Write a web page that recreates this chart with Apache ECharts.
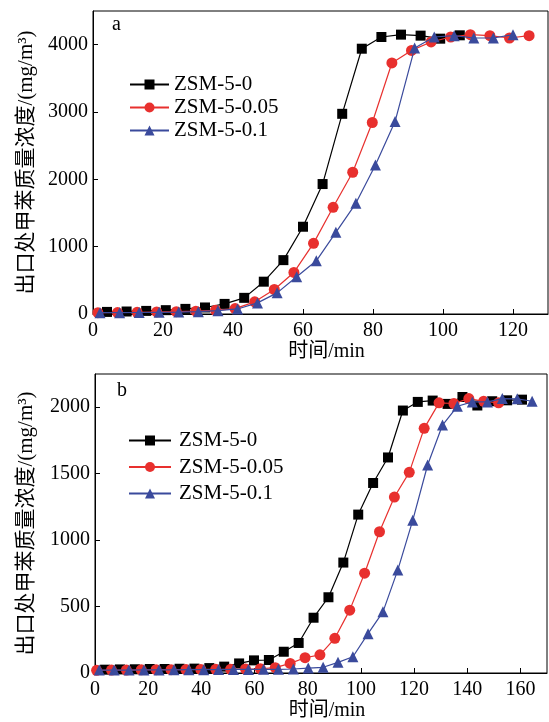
<!DOCTYPE html>
<html>
<head>
<meta charset="utf-8">
<script src="https://cdn.jsdelivr.net/npm/echarts@6/dist/echarts.min.js"></script>
<style>html,body{margin:0;padding:0;background:#fff;}#c{width:549px;height:722px;}</style>
</head>
<body>
<div id="c"></div>
<script>
// ---- Data ----
var seriesNames = ['ZSM-5-0', 'ZSM-5-0.05', 'ZSM-5-0.1'];

// Panel a
var aX0 = [4.0, 9.6, 15.2, 20.8, 26.4, 32.0, 37.6, 43.2, 48.8, 54.4, 60.0, 65.6, 71.2, 76.8, 82.4, 88.0, 93.6, 99.2, 104.8];
var aY0 = [31, 37, 46, 57, 76, 97, 150, 240, 480, 800, 1296, 1930, 2973, 3940, 4114, 4149, 4134, 4089, 4139];
var aX1 = [1.4, 7.0, 12.6, 18.2, 23.8, 29.4, 35.0, 40.6, 46.2, 51.8, 57.4, 63.0, 68.6, 74.2, 79.8, 85.4, 91.0, 96.6, 102.2, 107.8, 113.4, 119.0, 124.6];
var aY1 = [20, 22, 25, 30, 35, 42, 55, 80, 181, 364, 617, 1049, 1585, 2105, 2844, 3728, 3915, 4040, 4114, 4149, 4134, 4099, 4134];
var aX2 = [2.0, 7.6, 13.2, 18.9, 24.5, 30.1, 35.7, 41.3, 47.0, 52.6, 58.2, 63.8, 69.4, 75.1, 80.7, 86.3, 91.9, 97.5, 103.2, 108.8, 114.4, 120.0];
var aY2 = [20, 20, 22, 25, 28, 35, 50, 75, 165, 314, 552, 790, 1213, 1644, 2214, 2858, 3950, 4114, 4134, 4099, 4099, 4149];

// Panel b
var bX0 = [3.8, 9.4, 15.0, 20.6, 26.2, 31.8, 37.4, 43.0, 48.6, 54.2, 59.8, 65.4, 71.0, 76.6, 82.2, 87.8, 93.4, 99.0, 104.6, 110.2, 115.8, 121.4, 127.0, 132.6, 138.2, 143.8, 149.4, 155.0, 160.6];
var bY0 = [25, 27, 28, 30, 30, 32, 33, 37, 48, 72, 95, 98, 160, 226, 416, 570, 831, 1192, 1430, 1622, 1975, 2040, 2050, 2025, 2077, 2013, 2045, 2052, 2057];
var bX1 = [0.6, 6.2, 11.8, 17.4, 23.0, 28.6, 34.2, 39.8, 45.4, 51.0, 56.6, 62.2, 67.8, 73.4, 79.0, 84.6, 90.2, 95.8, 101.4, 107.0, 112.6, 118.2, 123.8, 129.4, 135.0, 140.6, 146.2, 151.8];
var bY1 = [20, 22, 22, 24, 25, 25, 26, 27, 28, 28, 30, 32, 40, 72, 115, 137, 261, 473, 751, 1063, 1324, 1510, 1841, 2033, 2028, 2065, 2045, 2033];
var bX2 = [1.6, 7.2, 12.8, 18.4, 24.1, 29.7, 35.3, 40.9, 46.5, 52.1, 57.7, 63.4, 69.0, 74.6, 80.2, 85.8, 91.4, 97.0, 102.7, 108.3, 113.9, 119.5, 125.1, 130.7, 136.3, 141.9, 147.6, 153.2, 158.8, 164.4];
var bY2 = [22, 22, 22, 23, 23, 24, 25, 25, 26, 27, 27, 28, 28, 30, 37, 43, 80, 122, 296, 460, 776, 1149, 1565, 1866, 2007, 2040, 2040, 2065, 2063, 2045];

var xTitle = '时间/min';
var yTitle = '出口处甲苯质量浓度/(mg/m³)';
var panelLabels = ['a', 'b'];

// ---- Styling ----
var FONT = '"Liberation Serif", "Noto Sans CJK SC", serif';
var colors = ['#000000', '#e8302e', '#3a4a9c'];
var symbols = ['rect', 'circle', 'triangle'];
var symSizes = [10, 11, 11];

function pairs(xs, ys) { return xs.map(function (x, i) { return [x, ys[i]]; }); }
function plain(v) { return String(v); }

function xAxis(gi, max) {
  return {
    type: 'value', gridIndex: gi, min: 0, max: max, interval: 20,
    name: xTitle, nameLocation: 'middle', nameGap: 28,
    nameTextStyle: { fontFamily: FONT, fontSize: 20, color: '#000', padding: [0, 0, 0, 12] },
    axisLine: { onZero: false, lineStyle: { color: '#000', width: 1 } },
    axisTick: { inside: true, length: 5, lineStyle: { color: '#000' } },
    axisLabel: { fontFamily: FONT, fontSize: 20, color: '#000', margin: 7, showMaxLabel: false, formatter: plain },
    splitLine: { show: false }
  };
}
function yAxis(gi, max, interval, gap) {
  return {
    type: 'value', gridIndex: gi, min: 0, max: max, interval: interval,
    name: yTitle, nameLocation: 'middle', nameGap: gap,
    nameTextStyle: { fontFamily: FONT, fontSize: 21, color: '#000' },
    axisLine: { onZero: false, lineStyle: { color: '#000', width: 1 } },
    axisTick: { inside: true, length: 5, lineStyle: { color: '#000' } },
    axisLabel: { fontFamily: FONT, fontSize: 20, color: '#000', margin: 5, showMaxLabel: false, formatter: plain },
    splitLine: { show: false }
  };
}
function mkSeries(name, idx, gi, data) {
  return {
    type: 'line', name: name, xAxisIndex: gi, yAxisIndex: gi, data: data,
    symbol: symbols[idx], symbolSize: symSizes[idx],
    lineStyle: { color: colors[idx], width: 1.2 },
    itemStyle: { color: colors[idx] },
    z: 2 + idx, animation: false, clip: false
  };
}

var chart = echarts.init(document.getElementById('c'), null, { renderer: 'canvas' });
chart.setOption({
  backgroundColor: '#fff',
  animation: false,
  grid: [
    { left: 93, top: 11, width: 455, height: 303, show: true, borderColor: '#000', borderWidth: 1, containLabel: false },
    { left: 95, top: 374, width: 452, height: 302, show: true, borderColor: '#000', borderWidth: 1, containLabel: false }
  ],
  xAxis: [xAxis(0, 130), xAxis(1, 170)],
  yAxis: [yAxis(0, 4500, 1000, 56), yAxis(1, 2250, 500, 58)],
  legend: [
    { orient: 'vertical', left: 124, top: 69, itemWidth: 39, itemHeight: 12.5, itemGap: 2,
      data: seriesNames, textStyle: { fontFamily: FONT, fontSize: 21, color: '#000', lineHeight: 21 },
      selectedMode: false },
    { orient: 'vertical', left: 123, top: 425, itemWidth: 42, itemHeight: 12.5, itemGap: 5.5,
      data: seriesNames, textStyle: { fontFamily: FONT, fontSize: 21, color: '#000', lineHeight: 21, padding: [0, 0, 0, 3] },
      selectedMode: false }
  ],
  graphic: [
    { type: 'text', left: 112, top: 15, style: { text: panelLabels[0], font: '20px "Liberation Serif"', fill: '#000' } },
    { type: 'text', left: 117, top: 381, style: { text: panelLabels[1], font: '20px "Liberation Serif"', fill: '#000' } }
  ],
  series: [
    mkSeries(seriesNames[0], 0, 0, pairs(aX0, aY0)),
    mkSeries(seriesNames[1], 1, 0, pairs(aX1, aY1)),
    mkSeries(seriesNames[2], 2, 0, pairs(aX2, aY2)),
    mkSeries(seriesNames[0], 0, 1, pairs(bX0, bY0)),
    mkSeries(seriesNames[1], 1, 1, pairs(bX1, bY1)),
    mkSeries(seriesNames[2], 2, 1, pairs(bX2, bY2))
  ]
});
</script>
</body>
</html>
